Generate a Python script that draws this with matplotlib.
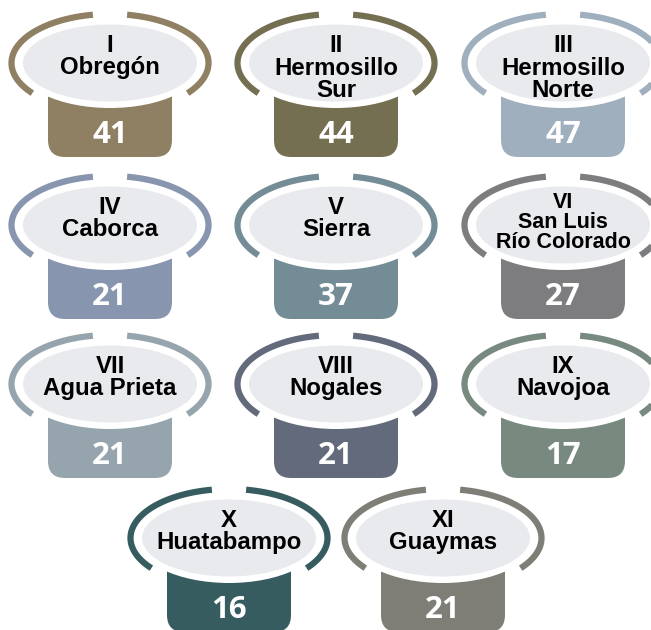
import numpy as np
import matplotlib
matplotlib.use("Agg")
from matplotlib import pyplot as plt
from matplotlib.patches import Ellipse, FancyBboxPatch

# Datos: distritos y valores
numerales = ["I", "II", "III", "IV", "V", "VI", "VII", "VIII", "IX", "X", "XI"]
nombres = [["Obregón"], ["Hermosillo", "Sur"], ["Hermosillo", "Norte"],
           ["Caborca"], ["Sierra"], ["San Luis", "Río Colorado"],
           ["Agua Prieta"], ["Nogales"], ["Navojoa"], ["Huatabampo"], ["Guaymas"]]
valores = [41, 44, 47, 21, 37, 27, 21, 21, 17, 16, 21]
colores = ["#8f8064", "#756f52", "#a0afbe", "#8795ae", "#738c96", "#7d7d80",
           "#96a5ad", "#636a7b", "#788980", "#365c60", "#7f7e76"]

# posiciones (pixeles, desde arriba)
cols = [110, 336, 563, 110, 336, 563, 110, 336, 563, 229, 443]
rows = [63, 63, 63, 225, 225, 225, 384, 384, 384, 538, 538]

W, H = 651, 630
fig = plt.figure(figsize=(W / 100, H / 100), dpi=100)
ax = fig.add_axes([0, 0, 1, 1])
ax.set_xlim(0, W)
ax.set_ylim(0, H)
ax.axis("off")

def arco(cx, cy, t1, t2, color):
    t = np.radians(np.linspace(t1, t2, 120))
    ax.plot(cx + 98.5 * np.cos(t), cy + 49 * np.sin(t), color=color,
            lw=4.5, solid_capstyle="butt", zorder=4)

for num, nom, val, col, x, ys in zip(numerales, nombres, valores, colores, cols, rows):
    y = H - ys
    # caja inferior
    ax.add_patch(FancyBboxPatch((x - 62, y - 94), 124, 94,
                                boxstyle="round,pad=0,rounding_size=17",
                                fc=col, ec="none", zorder=1))
    # halo blanco y elipse gris
    ax.add_patch(Ellipse((x, y), 186, 90, fc="white", ec="none", zorder=2))
    ax.add_patch(Ellipse((x, y), 174, 77, fc="#e9eaee", ec="none", zorder=3))
    # anillo partido
    arco(x, y, -38, 80, col)
    arco(x, y, 100, 218, col)

    lineas = [num] + nom
    if len(lineas) == 3 and num == "VI":
        fs, bases = 15.5, [-17, 3, 23]
    elif len(lineas) == 3:
        fs, bases = 17.3, [-11, 12, 34]
    else:
        fs, bases = 17.3, [-11, 11]
    for txt, b in zip(lineas, bases):
        ax.text(x, y - b, txt, ha="center", va="baseline", fontsize=fs,
                fontweight="bold", family="Liberation Sans", color="black", zorder=5)
    ax.text(x, y - 80, str(val), ha="center", va="baseline", fontsize=22.5,
            fontweight="bold", family="Open Sans", color="white", zorder=5)

fig.savefig("out.png", dpi=100)
